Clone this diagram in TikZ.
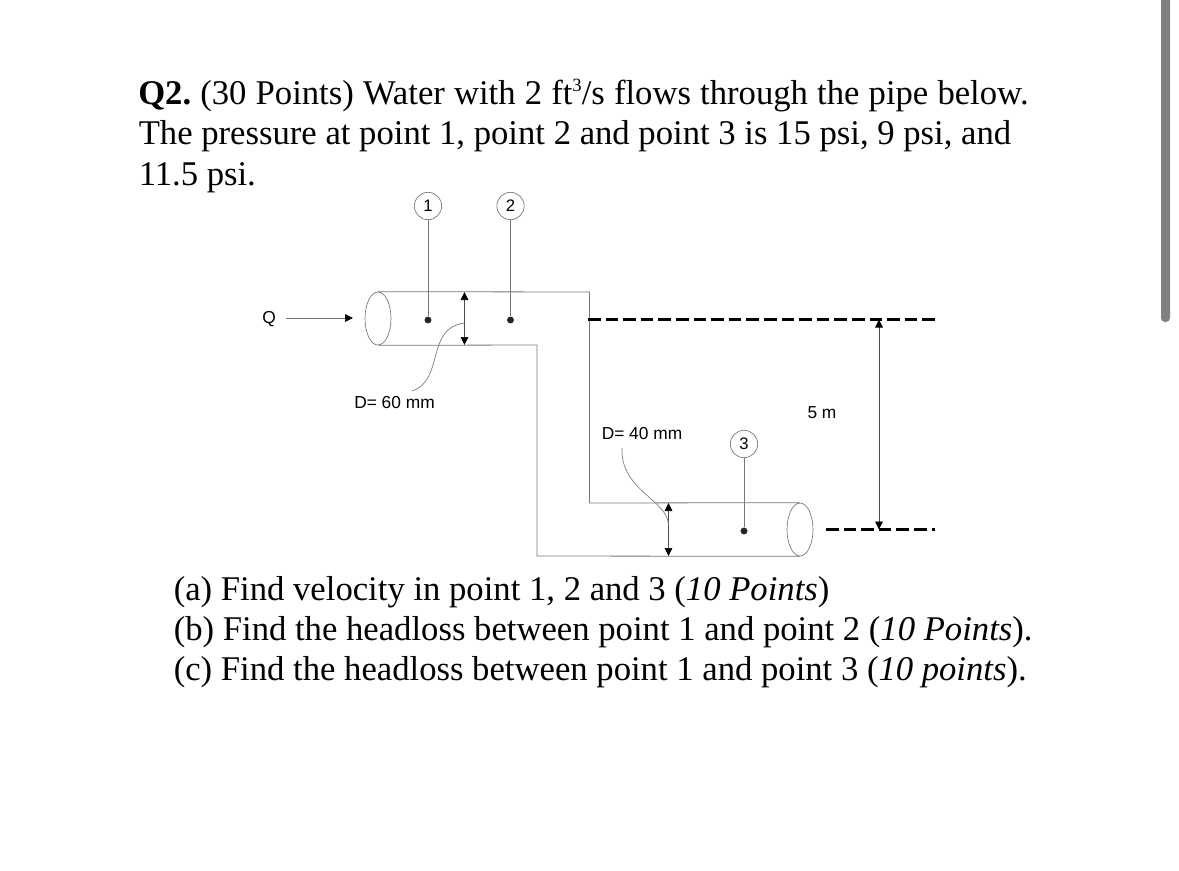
\documentclass[tikz,border=0pt]{standalone}
\usepackage{fontspec}
\setmainfont{Liberation Serif}
\newfontfamily\labelfont{Liberation Sans}
\usetikzlibrary{arrows.meta,shapes.geometric}
\definecolor{pipegray}{HTML}{777777}
\definecolor{bargray}{HTML}{808080}
\tikzset{
  textline/.style={anchor=base west,inner sep=0pt,font=\fontsize{26}{30}\selectfont},
  sidelabel/.style={inner sep=0pt,font=\labelfont\fontsize{13}{15}\selectfont},
  tag/.style={shape=circle,draw=pipegray,line width=0.5pt,minimum size=20.5pt,inner sep=0pt,font=\labelfont\fontsize{12.5}{15}\selectfont},
  dot/.style={shape=circle,fill=black!85,minimum size=5.2pt,inner sep=0pt},
  mouth/.style={shape=ellipse,draw=pipegray,line width=0.5pt,minimum width=19.5pt,minimum height=39.75pt,inner sep=0pt},
  pipeline/.style={draw=pipegray,line width=0.6pt},
  leader/.style={draw=pipegray,line width=0.5pt},
  head/.style={-{Triangle[length=6pt,width=5.8pt,color=black]}},
  dimline/.style={draw=black!70,line width=0.5pt,{Triangle[length=6pt,width=5.8pt,color=black]}-{Triangle[length=6pt,width=5.8pt,color=black]}},
  level/.style={draw=black,line width=2.2pt,dash pattern=on 9.5pt off 3.7pt}
}
\begin{document}
\begin{tikzpicture}[x=0.75pt,y=-0.75pt]
\useasboundingbox (0,0) rectangle (1179,871);
\node[textline] (L1) at (138,104) {\spaceskip=6.85pt\textbf{Q2.}\kern-2.2pt{} (30 Points) Water with 2 ft\raisebox{9.5pt}{\fontsize{14}{14}\selectfont 3}/s flows through the pipe below.};
\node[textline] (L2) at (138.5,144) {The pressure at point 1, point 2 and point 3 is 15 psi, 9 psi, and};
\node[textline] (L3) at (138.5,185) {11.5 psi.};
\node[textline] (A) at (173.5,600) {(a) Find velocity in point 1, 2 and 3 (\textit{10 Points})};
\node[textline] (B) at (173.5,640) {(b) Find the headloss between point 1 and point 2 (\textit{10 Points}).};
\node[textline] (C) at (173.5,680) {(c) Find the headloss between point 1 and point 3 (\textit{10 points}).};
\node[mouth] (M1) at (378,318.5) {};
\node[mouth] (M3) at (800,529.5) {};
\coordinate (TR) at (589.5,292);
\coordinate (BR) at (537,345);
\coordinate (TL) at (589.5,503);
\coordinate (BL) at (537,556);
\path [pipeline] (M1.north) -- (TR) -- (TL) -- (M3.north);
\path [pipeline] (M1.south) -- (BR) -- (BL) -- (M3.south);
\node[tag] (N1) at (428,206) {1};
\node[tag] (N2) at (510.5,206) {2};
\node[tag] (N3) at (744,444) {3};
\node[dot] (P1) at (428,320) {};
\node[dot] (P2) at (510.5,320) {};
\node[dot] (P3) at (744,531) {};
\path [leader] (N1) -- (P1);
\path [leader] (N2) -- (P2);
\path [leader] (N3) -- (P3);
\node[sidelabel] (Q) at (269,319) {Q};
\coordinate (QS) at (286,318);
\coordinate (QE) at (353,318);
\path [leader,head] (QS) -- (QE);
\coordinate (D1T) at (464.5,292);
\coordinate (D1B) at (464.5,345);
\path [dimline] (D1T) -- (D1B);
\coordinate (D3T) at (668.5,503);
\coordinate (D3B) at (668.5,556);
\path [dimline] (D3T) -- (D3B);
\node[sidelabel] (D60) at (394.5,403) {D= 60 mm};
\node[sidelabel] (D40) at (642,434) {D= 40 mm};
\coordinate (C60) at (412,391);
\coordinate (C60E) at (464.5,323);
\coordinate (C40) at (622,448);
\coordinate (C40E) at (668.5,525);
\path [leader] (C60) .. controls (445,380) and (425,328) .. (C60E);
\path [leader] (C40) .. controls (620,490) and (668,500) .. (C40E);
\coordinate (H1) at (588,319.5);
\coordinate (H1E) at (935,319.5);
\coordinate (H3) at (826,529.5);
\coordinate (H3E) at (935,529.5);
\path [level] (H1) -- (H1E);
\path [level] (H3) -- (H3E);
\coordinate (V1) at (879,319.5);
\coordinate (V3) at (879,529.5);
\path [dimline] (V1) -- (V3);
\node[sidelabel] (FM) at (822,413) {5 m};
\fill[bargray,rounded corners=3pt] (1161,-10) rectangle (1170,322);
\end{tikzpicture}
\end{document}
